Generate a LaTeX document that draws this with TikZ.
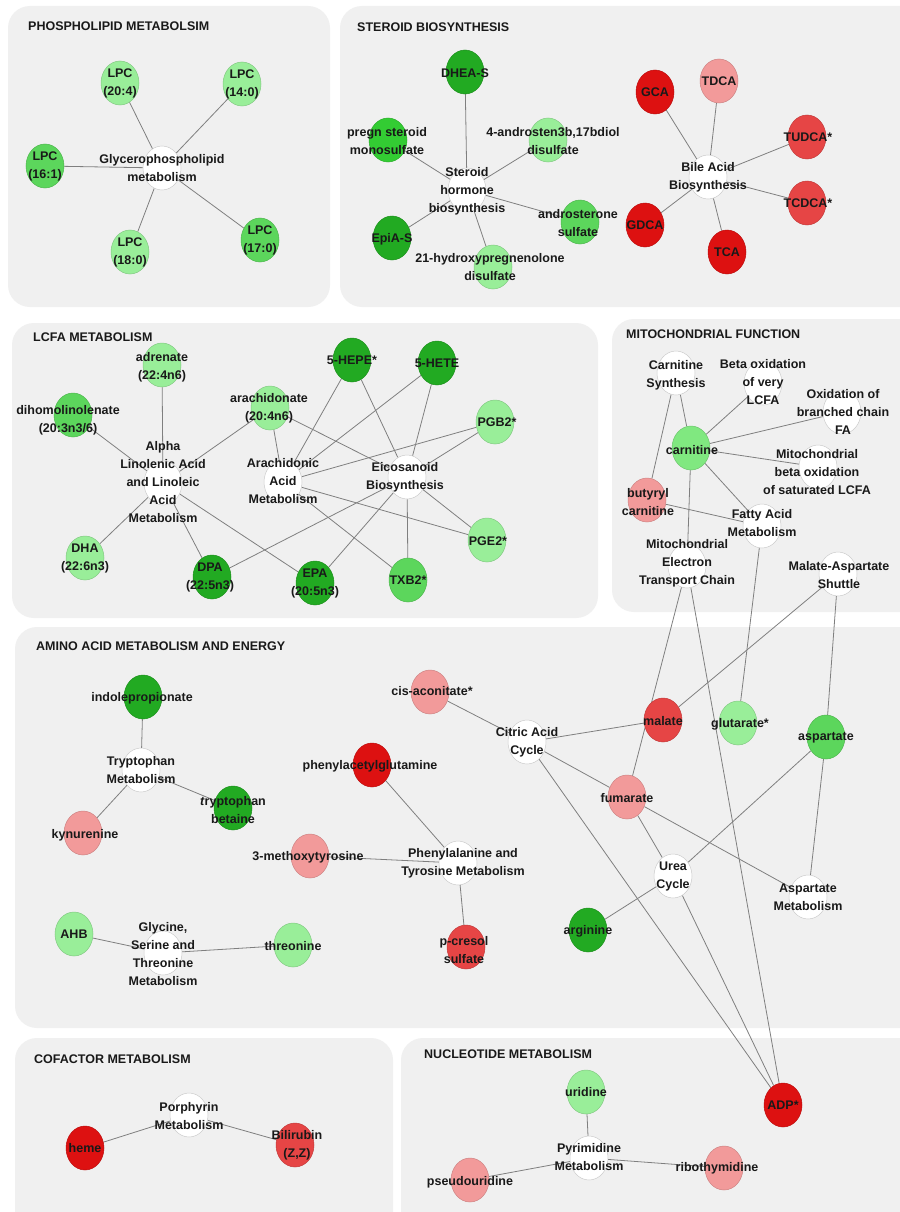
\documentclass[tikz,border=0pt]{standalone}
\usepackage{fontspec}
\setmainfont{Liberation Sans}
\usetikzlibrary{shapes.geometric}
\pgfdeclarelayer{panel}\pgfdeclarelayer{edge}\pgfdeclarelayer{text}
\pgfsetlayers{panel,edge,main,text}
\definecolor{cgD}{HTML}{22AA22}
\definecolor{cgB}{HTML}{33CC33}
\definecolor{cgM}{HTML}{5CD65C}
\definecolor{cgL}{HTML}{99EE99}
\definecolor{cgC}{HTML}{80E880}
\definecolor{crD}{HTML}{DD1111}
\definecolor{crM}{HTML}{E64545}
\definecolor{crL}{HTML}{F29A9A}
\definecolor{cPanel}{HTML}{F0F0F0}
\definecolor{cEdge}{HTML}{7F7F7F}
\definecolor{cBorder}{HTML}{CCCCCC}
\tikzset{
 nd/.style={ellipse, minimum width=38pt, minimum height=44pt, inner sep=0pt, line width=0.5pt},
 swh/.style={nd, fill=white, draw=cBorder},
 sgD/.style={nd, fill=cgD, draw=cgD!85!black},
 sgB/.style={nd, fill=cgB, draw=cgB!85!black},
 sgM/.style={nd, fill=cgM, draw=cgM!85!black},
 sgL/.style={nd, fill=cgL, draw=cgL!85!black},
 sgC/.style={nd, fill=cgC, draw=cgC!85!black},
 srD/.style={nd, fill=crD, draw=crD!85!black},
 srM/.style={nd, fill=crM, draw=crM!85!black},
 srL/.style={nd, fill=crL, draw=crL!85!black},
 lbl/.style={font=\fontsize{12.5}{18}\selectfont\bfseries, align=center, inner sep=0pt, text=black!90},
 ttl/.style={font=\fontsize{12.5}{15}\selectfont\bfseries, anchor=west, inner sep=0pt, text=black!90},
 pnl/.style={fill=cPanel, rounded corners=22pt},
 lnk/.style={draw=cEdge, line width=0.8pt},
}
\newcommand\metnode[5]{\node[#3] (#1) at (#2) {};\begin{pgfonlayer}{text}\node[lbl] (#1-t) at (#5) {#4};\end{pgfonlayer}}
\begin{document}
\begin{tikzpicture}[x=1pt,y=-1pt]
\useasboundingbox (0,0) rectangle (899,1212);
\begin{pgfonlayer}{panel}
\fill[white] (0,0) rectangle (899,1212);
\fill[pnl] (8,6) rectangle (330,307);
\fill[pnl] (340,6) rectangle (925,307);
\fill[pnl] (12,323) rectangle (598,618);
\fill[pnl] (612,319) rectangle (925,612);
\fill[pnl] (15,627) rectangle (925,1028);
\fill[pnl] (15,1038) rectangle (393,1240);
\fill[pnl] (401,1038) rectangle (925,1240);
\end{pgfonlayer}
% titles
\node[ttl] (t1) at (28,26) {PHOSPHOLIPID METABOLSIM};
\node[ttl] (t2) at (357,27) {STEROID BIOSYNTHESIS};
\node[ttl] (t3) at (33,337) {LCFA METABOLISM};
\node[ttl] (t4) at (626,334) {MITOCHONDRIAL FUNCTION};
\node[ttl] (t5) at (36,646) {AMINO ACID METABOLISM AND ENERGY};
\node[ttl] (t6) at (34,1059) {COFACTOR METABOLISM};
\node[ttl] (t7) at (424,1054) {NUCLEOTIDE METABOLISM};
% phospholipid
\metnode{gpm}{162,168}{swh}{Glycerophospholipid\\metabolism}{162,168}
\metnode{lpcA}{120,83}{sgL}{LPC\\(20:4)}{120,83}
\metnode{lpcB}{242,84}{sgL}{LPC\\(14:0)}{242,84}
\metnode{lpcC}{45,166}{sgM}{LPC\\(16:1)}{45,166}
\metnode{lpcD}{130,252}{sgL}{LPC\\(18:0)}{130,252}
\metnode{lpcE}{260,240}{sgM}{LPC\\(17:0)}{260,240}
% steroid
\metnode{shb}{467,190}{swh}{Steroid\\hormone\\biosynthesis}{467,191}
\metnode{dheas}{465,72}{sgD}{DHEA-S}{465,73}
\metnode{pregn}{388,140}{sgB}{pregn steroid\\monosulfate}{387,141}
\metnode{androA}{548,140}{sgL}{4-androsten3b,17bdiol\\disulfate}{553,141}
\metnode{epias}{392,238}{sgD}{EpiA-S}{392,239}
\metnode{androS}{580,222}{sgM}{androsterone\\sulfate}{578,223}
\metnode{hyd}{493,267}{sgL}{21-hydroxypregnenolone\\disulfate}{490,267}
\metnode{bab}{708,177}{swh}{Bile Acid\\Biosynthesis}{708,177}
\metnode{gca}{655,92}{srD}{GCA}{655,92}
\metnode{tdca}{719,81}{srL}{TDCA}{719,81}
\metnode{tudca}{807,137}{srM}{TUDCA*}{808,137}
\metnode{tcdca}{807,203}{srM}{TCDCA*}{808,203}
\metnode{gdca}{645,225}{srD}{GDCA}{645,225}
\metnode{tca}{727,252}{srD}{TCA}{727,252}
% LCFA
\metnode{ala}{163,483}{swh}{Alpha\\Linolenic Acid\\and Linoleic\\Acid\\Metabolism}{163,482}
\metnode{adr}{162,365}{sgL}{adrenate\\(22:4n6)}{162,367}
\metnode{dih}{73,415}{sgM}{dihomolinolenate\\(20:3n3/6)}{68,420}
\metnode{ara}{270,408}{sgL}{arachidonate\\(20:4n6)}{269,408}
\metnode{aam}{283,482}{swh}{Arachidonic\\Acid\\Metabolism}{283,481}
\metnode{hepe}{352,360}{sgD}{5-HEPE*}{352,360}
\metnode{hete}{437,363}{sgD}{5-HETE}{437,363}
\metnode{pgb}{495,422}{sgL}{PGB2*}{497,422}
\metnode{eico}{407,477}{swh}{Eicosanoid\\Biosynthesis}{405,477}
\metnode{pge}{487,540}{sgL}{PGE2*}{488,541}
\metnode{txb}{408,580}{sgM}{TXB2*}{408,580}
\metnode{epa}{315,583}{sgD}{EPA\\(20:5n3)}{315,583}
\metnode{dpa}{212,577}{sgD}{DPA\\(22:5n3)}{210,577}
\metnode{dha}{85,558}{sgL}{DHA\\(22:6n3)}{85,558}
% mito
\metnode{cs}{676,373}{swh}{Carnitine\\Synthesis}{676,375}
\metnode{bvl}{763,383}{swh}{Beta oxidation\\of very\\LCFA}{763,382}
\metnode{obc}{842,412}{swh}{Oxidation of\\branched chain\\FA}{843,412}
\metnode{carn}{691,448}{sgC}{carnitine}{692,450}
\metnode{mbo}{818,467}{swh}{Mitochondrial\\beta oxidation\\of saturated LCFA}{817,472}
\metnode{but}{647,500}{srL}{butyryl\\carnitine}{648,502}
\metnode{fam}{762,526}{swh}{Fatty Acid\\Metabolism}{762,523}
\metnode{etc}{687,566}{swh}{Mitochondrial\\Electron\\Transport Chain}{687,563}
\metnode{mas}{838,574}{swh}{Malate-Aspartate\\Shuttle}{839,575}
% amino
\metnode{ind}{143,697}{sgD}{indolepropionate}{142,698}
\metnode{trp}{141,770}{swh}{Tryptophan\\Metabolism}{141,770}
\metnode{kyn}{83,833}{srL}{kynurenine}{85,835}
\metnode{trpb}{233,808}{sgD}{\textit{t}ryptophan\\betaine}{233,810}
\metnode{pag}{372,765}{srD}{phenylacetylglutamine}{370,766}
\metnode{mty}{310,856}{srL}{3-methoxytyrosine}{308,857}
\metnode{ptm}{458,863}{swh}{Phenylalanine and\\Tyrosine Metabolism}{463,863}
\metnode{pcs}{466,947}{srM}{p-cresol\\sulfate}{464,950}
\metnode{ahb}{74,934}{sgL}{AHB}{74,934}
\metnode{gstm}{163,953}{swh}{Glycine,\\Serine and\\Threonine\\Metabolism}{163,954}
\metnode{thr}{293,945}{sgL}{threonine}{293,946}
\metnode{cis}{430,692}{srL}{cis-aconitate*}{432,691}
\metnode{cac}{527,742}{swh}{Citric Acid\\Cycle}{527,742}
\metnode{mal}{663,720}{srM}{malate}{663,721}
\metnode{glu}{738,723}{sgL}{glutarate*}{740,724}
\metnode{asp}{826,737}{sgM}{aspartate}{826,738}
\metnode{fum}{627,797}{srL}{fumarate}{627,798}
\metnode{urea}{673,876}{swh}{Urea\\Cycle}{673,876}
\metnode{aspm}{808,897}{swh}{Aspartate\\Metabolism}{808,897}
\metnode{arg}{588,930}{sgD}{arginine}{588,931}
% cofactor
\metnode{por}{189,1115}{swh}{Porphyrin\\Metabolism}{189,1116}
\metnode{heme}{85,1148}{srD}{heme}{85,1148}
\metnode{bil}{295,1145}{srM}{Bilirubin\\(Z,Z)}{297,1145}
% nucleotide
\metnode{uri}{586,1092}{sgL}{uridine}{586,1092}
\metnode{pyr}{589,1158}{swh}{Pyrimidine\\Metabolism}{589,1157}
\metnode{psu}{470,1180}{srL}{pseudouridine}{470,1182}
\metnode{rib}{724,1168}{srL}{ribothymidine}{717,1168}
\metnode{adp}{783,1105}{srD}{ADP*}{783,1105}
% edges
\begin{pgfonlayer}{edge}
\foreach \a/\b in {gpm/lpcA,gpm/lpcB,gpm/lpcC,gpm/lpcD,gpm/lpcE,
 shb/dheas,shb/pregn,shb/androA,shb/epias,shb/androS,shb/hyd,
 bab/gca,bab/tdca,bab/tudca,bab/tcdca,bab/gdca,bab/tca,
 ala/adr,ala/dih,ala/ara,ala/dha,ala/dpa,ala/epa,
 aam/ara,aam/hepe,aam/hete,aam/pgb,aam/pge,aam/txb,
 eico/ara,eico/hepe,eico/hete,eico/pgb,eico/pge,eico/txb,eico/epa,eico/dpa,
 cs/carn,cs/but,bvl/carn,obc/carn,mbo/carn,carn/fam,carn/etc,but/fam,
 etc/fum,etc/adp,fam/glu,mas/mal,mas/asp,
 ind/trp,trp/kyn,trp/trpb,pag/ptm,mty/ptm,ptm/pcs,ahb/gstm,gstm/thr,
 cis/cac,cac/mal,cac/fum,cac/adp,fum/urea,fum/aspm,asp/urea,asp/aspm,arg/urea,urea/adp,
 por/heme,por/bil,pyr/uri,pyr/psu,pyr/rib}
 {\draw[lnk] (\a) -- (\b);}
\end{pgfonlayer}
\end{tikzpicture}
\end{document}
